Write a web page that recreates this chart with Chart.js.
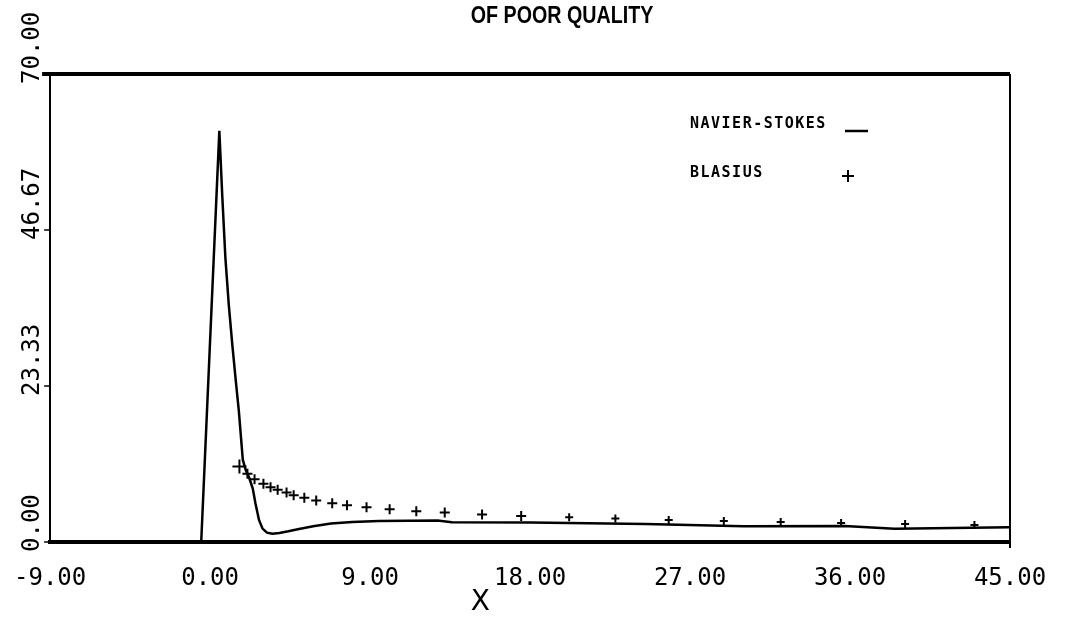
<!DOCTYPE html>
<html>
<head>
<meta charset="utf-8">
<script src="https://cdn.jsdelivr.net/npm/chart.js@4.4.0/dist/chart.umd.min.js"></script>
<style>
  html, body { margin: 0; padding: 0; background: #fff; }
  #wrap { width: 1081px; height: 622px; position: relative; }
</style>
</head>
<body>
<div id="wrap"><canvas id="plot" width="1081" height="622"></canvas></div>
<script>
// Navier-Stokes curve
const nsX = [-0.5, 0.52, 0.68, 0.86, 1.05, 1.25, 1.45, 1.62, 1.84, 2.0, 2.2, 2.4, 2.55, 2.75, 2.95, 3.2, 3.5, 3.9, 4.4, 5.0, 5.8, 6.8, 8.0, 9.5, 12.8, 13.6, 18.0, 24.5, 30.0, 35.7, 38.5, 45.0];
const nsY = [0, 61.5, 52.0, 42.5, 35.5, 29.5, 24.0, 19.5, 12.3, 10.8, 9.6, 8.0, 5.8, 3.3, 2.0, 1.4, 1.25, 1.35, 1.6, 1.95, 2.35, 2.75, 3.0, 3.15, 3.2, 2.95, 2.9, 2.7, 2.35, 2.4, 2.0, 2.2];

// Blasius points (+ markers)
const blX = [1.65, 2.1, 2.5, 3.0, 3.4, 3.8, 4.3, 4.7, 5.3, 5.97, 6.87, 7.7, 8.8, 10.1, 11.6, 13.2, 15.3, 17.5, 20.2, 22.8, 25.8, 28.9, 32.1, 35.5, 39.1, 43.0];
const blY = [11.3, 10.2, 9.4, 8.7, 8.2, 7.8, 7.4, 7.0, 6.6, 6.2, 5.8, 5.5, 5.2, 4.9, 4.6, 4.4, 4.1, 3.9, 3.7, 3.5, 3.3, 3.15, 3.0, 2.85, 2.7, 2.55];

// axis ticks
const xTicks = [-9, 0, 9, 18, 27, 36, 45];
const yTicks = [0, 23.33, 46.67, 70];
const yTickLabels = ['0.00', '23.33', '46.67', '70.00'];

const monoFont = '"DejaVu Sans Mono", monospace';

// extra drawing: frame, rotated y labels, legend, titles
const decorations = {
  id: 'decorations',
  afterDraw(chart) {
    const { ctx, chartArea: a, scales } = chart;
    ctx.save();
    ctx.strokeStyle = '#000';
    ctx.fillStyle = '#000';

    // top and right frame
    ctx.lineWidth = 4;
    ctx.beginPath();
    ctx.moveTo(a.left - 8, a.top);
    ctx.lineTo(a.right, a.top);
    ctx.stroke();
    ctx.lineWidth = 2;
    ctx.beginPath();
    ctx.moveTo(a.right, a.top);
    ctx.lineTo(a.right, a.bottom + 6);
    ctx.stroke();

    // y tick labels, rotated
    ctx.font = '24px ' + monoFont;
    ctx.textAlign = 'left';
    ctx.textBaseline = 'middle';
    yTicks.forEach((v, i) => {
      const py = scales.y.getPixelForValue(v);
      ctx.beginPath();
      ctx.lineWidth = 1.5;
      ctx.moveTo(a.left - 6, py);
      ctx.lineTo(a.left, py);
      ctx.stroke();
      ctx.save();
      ctx.translate(33, py + 10);
      ctx.rotate(-Math.PI / 2);
      ctx.fillText(yTickLabels[i], 0, 0);
      ctx.restore();
    });

    // axis title
    ctx.font = '28px "DejaVu Sans", sans-serif';
    ctx.textAlign = 'center';
    ctx.textBaseline = 'middle';
    ctx.fillText('X', scales.x.getPixelForValue(15.2), 603);

    // legend inside the plot
    ctx.font = 'bold 15px ' + monoFont;
    ctx.letterSpacing = '1.5px';
    ctx.textAlign = 'left';
    ctx.fillText('NAVIER-STOKES', 690, 124);
    ctx.fillText('BLASIUS', 690, 173);
    ctx.letterSpacing = '0px';
    ctx.lineWidth = 2.5;
    ctx.beginPath();
    ctx.moveTo(845, 131);
    ctx.lineTo(868, 131);
    ctx.stroke();
    ctx.lineWidth = 2;
    ctx.beginPath();
    ctx.moveTo(842, 176);
    ctx.lineTo(854, 176);
    ctx.moveTo(848, 170);
    ctx.lineTo(848, 182);
    ctx.stroke();

    // stamp at top of page (narrowed bold sans)
    ctx.save();
    ctx.translate(562, 16);
    ctx.scale(0.82, 1);
    ctx.font = 'bold 24px "Liberation Sans", Arial, sans-serif';
    ctx.textAlign = 'center';
    ctx.fillText('OF POOR QUALITY', 0, 0);
    ctx.restore();
    ctx.restore();
  }
};

const ctx = document.getElementById('plot').getContext('2d');
new Chart(ctx, {
  data: {
    datasets: [
      {
        type: 'line',
        label: 'NAVIER-STOKES',
        data: nsX.map((x, i) => ({ x: x, y: nsY[i] })),
        borderColor: '#000',
        borderWidth: 2.5,
        pointRadius: 0,
        tension: 0,
        fill: false
      },
      {
        type: 'scatter',
        label: 'BLASIUS',
        data: blX.map((x, i) => ({ x: x, y: blY[i] })),
        pointStyle: 'cross',
        pointRadius: c => (c.dataIndex === 0 ? 7 : c.dataIndex < 18 ? 5 : 4),
        borderColor: '#000',
        borderWidth: 2,
        showLine: false
      }
    ]
  },
  options: {
    responsive: false,
    animation: false,
    layout: { padding: { left: 0, right: 71, top: 74, bottom: 0 } },
    plugins: { legend: { display: false }, tooltip: { enabled: false } },
    scales: {
      x: {
        type: 'linear',
        min: -9,
        max: 45,
        afterBuildTicks: s => { s.ticks = xTicks.map(v => ({ value: v })); },
        afterFit: s => { s.height = 80; },
        grid: { display: false },
        border: { display: true, color: '#000', width: 4 },
        ticks: {
          color: '#000',
          font: { family: monoFont, size: 24 },
          padding: 14,
          maxRotation: 0,
          autoSkip: false,
          callback: v => v.toFixed(2)
        }
      },
      y: {
        type: 'linear',
        min: 0,
        max: 70,
        afterFit: s => { s.width = 47; },
        grid: { display: false },
        border: { display: true, color: '#000', width: 2 },
        ticks: { display: false }
      }
    }
  },
  plugins: [decorations]
});
</script>
</body>
</html>
